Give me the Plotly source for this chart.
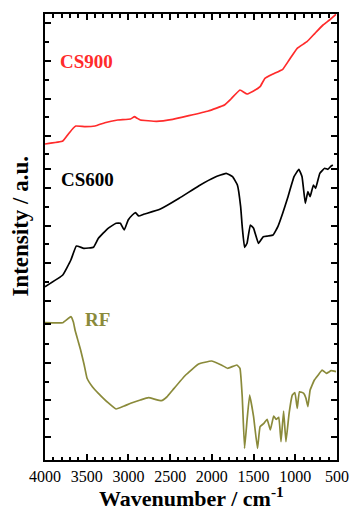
import plotly.graph_objects as go

# ---- data ----
cs900_wn = [4000, 3787, 3720, 3660, 3631, 3515, 3399, 3283, 3128, 2974, 2927, 2895, 2857, 2663,
            2469, 2276, 2043, 1849, 1771, 1663, 1578, 1500, 1422, 1364, 1267, 1151, 1074, 977,
            860, 764, 667, 590, 512]
cs900_int = [316, 319, 326, 332, 334, 333.3, 334, 337.3, 340, 341, 343.3, 341.7, 340, 338.7,
             340.7, 344.3, 349, 355, 361, 370, 366, 369, 373.3, 381.7, 386, 390.7, 400, 411.7,
             418.3, 426.7, 435, 440, 445.7]

cs600_wn = [4000, 3787, 3690, 3624, 3535, 3419, 3360, 3244, 3148, 3097, 3050, 3003, 2953, 2915,
            2876, 2818, 2624, 2392, 2159, 1965, 1829, 1752, 1694, 1655, 1636, 1608, 1578, 1539,
            1500, 1442, 1384, 1326, 1267, 1209, 1151, 1093, 1015, 957, 919, 880, 849, 822, 783,
            756, 706, 648, 608, 570, 550]
cs600_int = [173.3, 185, 200, 214, 211.7, 212.7, 221.7, 231.7, 236.7, 236.7, 230, 240, 245, 247.3,
             244, 245.7, 250.7, 261.7, 274, 282.7, 286.7, 283.3, 275, 253.3, 233.3, 212.7, 216.7,
             235, 231.7, 216.7, 223.3, 224, 225, 233.3, 246.7, 261.7, 283.3, 290.7, 283.3, 256.7,
             268.3, 263.3, 275, 271.7, 286.7, 291.7, 290.7, 294, 295]

rf_wn = [4000, 3787, 3690, 3660, 3640, 3600, 3573, 3530, 3496, 3430, 3360, 3244, 3148, 3050, 2973,
         2857, 2760, 2605, 2540, 2469, 2314, 2159, 2004, 1887, 1810, 1701, 1663, 1636, 1608, 1578,
         1547, 1500, 1453, 1422, 1376, 1337, 1299, 1259, 1229, 1198, 1171, 1140, 1112, 1074,
         1035, 1004, 977, 950, 899, 872, 849, 822, 771, 725, 678, 628, 570, 512]
rf_int = [137.3, 137.3, 143.3, 138, 130, 118, 110, 95, 81.7, 73, 66.7, 57.3, 51, 54, 56.7,
          60, 62.3, 59.3, 63, 70, 85, 96, 99, 95, 91.7, 95, 91.7, 63.3, 11.7, 40,
          65, 43.3, 11.7, 33.3, 36.7, 40.7, 30, 44, 40.7, 42.7, 18.3, 49, 18.3, 46.7,
          65, 67.3, 51.7, 68.3, 66.7, 61.7, 53.3, 70, 80, 85, 90, 86.7, 89.3, 88.3]

x_ticks = [4000, 3500, 3000, 2500, 2000, 1500, 1000, 500]
x_ticklabels = ["4000", "3500", "3000", "2500", "2000", "1500", "1000", "500"]
y_major = [436.7, 399, 361.3, 324, 290.7, 271.7, 234.3, 196.7, 159.3, 135.7, 97, 59.7, 22.7]
y_minor = [417.7, 380, 342.7, 306, 253, 216, 178.3, 115.7, 78.3, 41]

labels = ["CS900", "CS600", "RF"]
label_wn = [3506, 3488, 3372]
label_int = [399, 281, 141]
colors = ["#ff2b2b", "#000000", "#8a8a3a"]

FONT = "Liberation Serif"

fig = go.Figure()
for wn, it, c, name in [(cs900_wn, cs900_int, colors[0], labels[0]),
                        (cs600_wn, cs600_int, colors[1], labels[1]),
                        (rf_wn, rf_int, colors[2], labels[2])]:
    fig.add_trace(go.Scatter(x=wn, y=it, mode="lines", name=name,
                             line=dict(color=c, width=1.7, shape="spline", smoothing=0.3),
                             showlegend=False))

for t, xv, yv, c in zip(labels, label_wn, label_int, colors):
    fig.add_annotation(x=xv, y=yv, text="<b>%s</b>" % t, showarrow=False,
                       font=dict(family=FONT, size=19, color=c))

fig.add_annotation(xref="paper", yref="paper", x=0.5, xanchor="center",
                   y=-0.118, yanchor="bottom",
                   text="<b>Wavenumber / cm<sup>-1</sup></b>", showarrow=False,
                   font=dict(family=FONT, size=22, color="black"))
fig.add_annotation(xref="paper", yref="paper", x=-0.083, xanchor="center",
                   y=0.525, yanchor="middle", textangle=-90,
                   text="<b>Intensity / a.u.</b>", showarrow=False,
                   font=dict(family=FONT, size=23, color="black"))

fig.update_layout(
    width=361, height=512,
    margin=dict(l=45, r=15, t=14, b=52),
    paper_bgcolor="white", plot_bgcolor="white",
    xaxis=dict(range=[4000, 500], tickvals=x_ticks, ticktext=x_ticklabels,
               ticks="inside", ticklen=6, tickwidth=1.5, tickcolor="black",
               mirror="allticks", showline=True, linecolor="black", linewidth=2,
               showgrid=False, zeroline=False, ticklabelstandoff=1,
               tickfont=dict(family=FONT, size=16, color="black"),
               minor=dict(dtick=100, ticks="inside", ticklen=3.5, tickwidth=1.5,
                          tickcolor="black", showgrid=False)),
    yaxis=dict(range=[0, 446], tickvals=y_major, showticklabels=False,
               ticks="inside", ticklen=6, tickwidth=1.5, tickcolor="black",
               mirror="allticks", showline=True, linecolor="black", linewidth=2,
               showgrid=False, zeroline=False,
               minor=dict(tickvals=y_minor, ticks="inside", ticklen=3.5, tickwidth=1.5,
                          tickcolor="black", showgrid=False)),
)

fig.write_html("out.html")
